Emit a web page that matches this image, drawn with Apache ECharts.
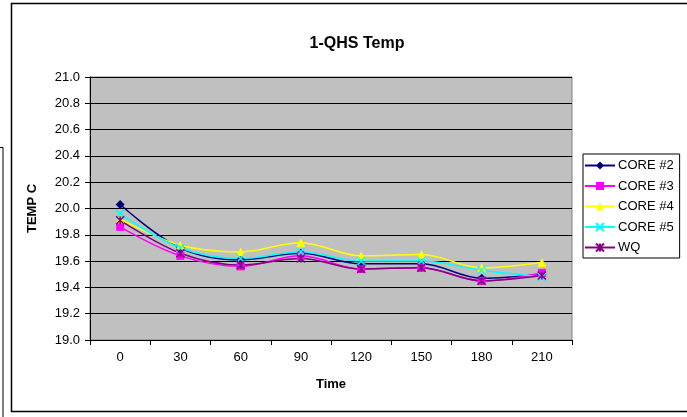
<!DOCTYPE html>
<html>
<head>
<meta charset="utf-8">
<script src="https://cdn.jsdelivr.net/npm/echarts@6/dist/echarts.min.js"></script>
<style>
  html, body { margin: 0; padding: 0; background: #fff; }
  #chart { width: 687px; height: 417px; }
</style>
</head>
<body>
<div id="chart"></div>
<script>
// Sampling times (minutes) and temperature readings per probe
const times = ['0', '30', '60', '90', '120', '150', '180', '210'];
const core2 = [20.03, 19.70, 19.61, 19.66, 19.58, 19.58, 19.47, 19.50];
const core3 = [19.86, 19.64, 19.56, 19.64, 19.54, 19.55, 19.45, 19.51];
const core4 = [19.92, 19.72, 19.67, 19.74, 19.64, 19.65, 19.55, 19.59];
const core5 = [19.96, 19.70, 19.62, 19.67, 19.60, 19.60, 19.53, 19.48];
const wq    = [19.91, 19.66, 19.57, 19.62, 19.54, 19.55, 19.45, 19.49];

const yTicks = { min: 19.0, max: 21.0, step: 0.2 };

const xMark = 'path://M0,0 L10,10 M10,0 L0,10';
const starMark = 'path://M0,0 L10,10 M10,0 L0,10 M5,0 L5,10';

const font = 'Liberation Sans, Arial, sans-serif';

function makeSeries(name, data, color, symbol, size, strokeSymbol) {
  return {
    name: name,
    type: 'line',
    data: data,
    smooth: 0.35,
    symbol: symbol,
    symbolSize: size,
    showAllSymbol: true,
    lineStyle: { color: color, width: 1.5 },
    itemStyle: strokeSymbol
      ? { color: color, borderColor: color, borderWidth: 1.5 }
      : { color: color, borderColor: color, borderWidth: 0 },
    emphasis: { disabled: true },
    animation: false
  };
}

const chart = echarts.init(document.getElementById('chart'), null, { renderer: 'canvas' });

chart.setOption({
  backgroundColor: '#ffffff',
  animation: false,
  title: {
    text: '1-QHS Temp',
    left: 352,
    top: 31,
    textAlign: 'center',
    textStyle: { fontFamily: font, fontSize: 16, fontWeight: 'bold', color: '#000' }
  },
  grid: {
    left: 90, top: 77, width: 482, height: 263,
    show: true,
    backgroundColor: '#c0c0c0',
    borderColor: '#808080',
    borderWidth: 1
  },
  legend: {
    orient: 'vertical',
    left: 583, top: 154,
    width: 100,
    padding: [5, 6, 4, 1],
    borderColor: '#000',
    borderWidth: 1,
    backgroundColor: '#fff',
    itemWidth: 30,
    itemHeight: 10,
    itemGap: 7.5,
    textStyle: { fontFamily: font, fontSize: 13, color: '#000', padding: [0, 0, 0, -2] },
    data: ['CORE #2', 'CORE #3', 'CORE #4', 'CORE #5', 'WQ']
  },
  xAxis: {
    type: 'category',
    data: times,
    boundaryGap: true,
    name: 'Time',
    nameLocation: 'middle',
    nameGap: 38,
    nameTextStyle: { fontFamily: font, fontSize: 13, fontWeight: 'bold', color: '#000' },
    axisLine: { lineStyle: { color: '#000', width: 1 } },
    axisTick: { show: true, inside: false, length: 5, lineStyle: { color: '#000' } },
    axisLabel: { fontFamily: font, fontSize: 13, color: '#000', margin: 11 },
    splitLine: { show: false }
  },
  yAxis: {
    type: 'value',
    min: yTicks.min,
    max: yTicks.max,
    interval: yTicks.step,
    name: 'TEMP C',
    nameLocation: 'middle',
    nameGap: 51,
    nameTextStyle: { fontFamily: font, fontSize: 13, fontWeight: 'bold', color: '#000' },
    axisLine: { show: true, lineStyle: { color: '#000', width: 1 } },
    axisTick: { show: true, inside: false, length: 5, lineStyle: { color: '#000' } },
    axisLabel: {
      fontFamily: font, fontSize: 13, color: '#000', margin: 10,
      formatter: v => v.toFixed(1)
    },
    splitLine: { show: true, lineStyle: { color: '#000', width: 1 } }
  },
  graphic: [
    // outer chart frame
    { type: 'polyline', shape: { points: [[687, 3.5], [11.5, 3.5], [11.5, 411.5], [687, 411.5]] },
      style: { stroke: '#000', lineWidth: 1.5, fill: null }, silent: true },
    // partial frame on the far left
    { type: 'polyline', shape: { points: [[0, 147.5], [3, 147.5], [3, 417]] },
      style: { stroke: '#000', lineWidth: 1, fill: null }, silent: true }
  ],
  series: [
    makeSeries('CORE #2', core2, '#000080', 'diamond', 9, false),
    makeSeries('CORE #3', core3, '#ff00ff', 'rect', 8, false),
    makeSeries('CORE #4', core4, '#ffff00', 'triangle', 9, false),
    makeSeries('CORE #5', core5, '#00ffff', xMark, 8, true),
    makeSeries('WQ', wq, '#800080', starMark, 8, true)
  ]
});
</script>
</body>
</html>
